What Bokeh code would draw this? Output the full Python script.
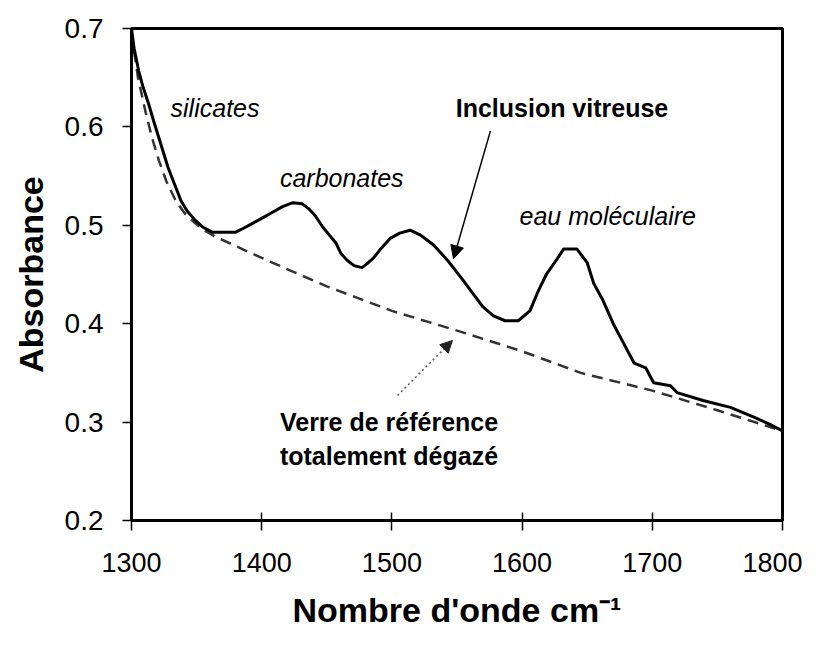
from bokeh.plotting import figure
from bokeh.models import Range1d, FixedTicker, Label, Arrow, NormalHead
from bokeh.embed import file_html
from bokeh.resources import INLINE

# --- data ---
wavenumber_inclusion = [1300, 1302, 1305.5, 1309, 1313, 1317, 1321, 1325, 1328, 1333, 1338, 1343,
                        1349, 1355, 1362, 1370, 1380, 1386, 1393, 1400, 1408, 1416, 1424, 1431,
                        1436, 1441, 1447, 1452, 1457, 1461, 1466, 1471, 1477, 1481, 1486, 1492,
                        1499, 1506, 1514, 1522, 1532, 1543, 1553, 1562, 1570, 1578, 1587, 1597,
                        1606, 1612, 1619, 1626, 1632, 1642, 1650, 1655, 1662, 1670, 1678, 1686,
                        1695, 1701, 1714, 1719, 1739, 1760, 1778, 1790, 1800]
absorbance_inclusion = [0.700, 0.680, 0.657, 0.640, 0.624, 0.606, 0.589, 0.572, 0.559, 0.542, 0.525, 0.514,
                        0.505, 0.498, 0.493, 0.493, 0.493, 0.497, 0.502, 0.507, 0.513, 0.519, 0.523, 0.522,
                        0.517, 0.510, 0.498, 0.490, 0.482, 0.471, 0.464, 0.459, 0.457, 0.461, 0.467, 0.477,
                        0.487, 0.492, 0.495, 0.490, 0.480, 0.464, 0.447, 0.431, 0.417, 0.408, 0.403, 0.403,
                        0.413, 0.432, 0.451, 0.464, 0.476, 0.476, 0.462, 0.441, 0.424, 0.400, 0.380, 0.360,
                        0.355, 0.340, 0.337, 0.330, 0.322, 0.315, 0.305, 0.298, 0.291]

wavenumber_reference = [1300, 1305, 1311, 1316, 1321, 1327, 1334, 1341, 1349, 1357, 1365, 1380,
                        1393, 1422, 1450, 1500, 1550, 1600, 1645, 1700, 1750, 1800]
absorbance_reference = [0.695, 0.650, 0.614, 0.588, 0.566, 0.544, 0.525, 0.512, 0.502, 0.494, 0.488, 0.479,
                        0.471, 0.454, 0.438, 0.413, 0.393, 0.372, 0.350, 0.332, 0.312, 0.291]

x_ticks = [1300, 1400, 1500, 1600, 1700, 1800]
x_tick_labels = ["1300", "1400", "1500", "1600", "1700", "1800"]
y_ticks = [0.2, 0.3, 0.4, 0.5, 0.6, 0.7]
y_tick_labels = ["0.2", "0.3", "0.4", "0.5", "0.6", "0.7"]

FONT = "Liberation Sans"

p = figure(width=802, height=632, output_backend="svg", toolbar_location=None,
           x_range=Range1d(1300, 1800), y_range=Range1d(0.2, 0.7),
           min_border_left=131, min_border_right=20, min_border_top=28, min_border_bottom=112)
p.background_fill_color = "white"
p.border_fill_color = "white"
p.outline_line_color = "black"
p.outline_line_width = 3
p.xgrid.visible = False
p.ygrid.visible = False

# lines
p.line(wavenumber_reference, absorbance_reference, line_color="#333333", line_width=2.5, line_dash="11 7")
p.line(wavenumber_inclusion, absorbance_inclusion, line_color="black", line_width=3)

# axes
for ax in (p.xaxis[0], p.yaxis[0]):
    ax.axis_line_color = "black"
    ax.axis_line_width = 3
    ax.major_tick_line_color = "black"
    ax.major_tick_line_width = 1.5
    ax.minor_tick_line_color = None
    ax.major_label_text_font = FONT
    ax.major_label_text_color = "black"
    ax.axis_label_text_font = FONT
    ax.axis_label_text_font_style = "bold"
    ax.axis_label_text_color = "black"

p.xaxis.ticker = FixedTicker(ticks=x_ticks)
p.xaxis.major_label_overrides = dict(zip(x_ticks, x_tick_labels))
p.xaxis.major_tick_in = 8
p.xaxis.major_tick_out = 10
p.xaxis.major_label_standoff = 22
p.xaxis.major_label_text_font_size = "27px"
p.xaxis.axis_label = "Nombre d'onde cm\u207b\u00b9"
p.xaxis.axis_label_text_font_size = "34px"
p.xaxis.axis_label_standoff = 16

p.yaxis.ticker = FixedTicker(ticks=y_ticks)
p.yaxis.major_label_overrides = dict(zip(y_ticks, y_tick_labels))
p.yaxis.major_tick_in = 0
p.yaxis.major_tick_out = 9
p.yaxis.major_label_standoff = 19
p.yaxis.major_label_text_font_size = "28px"
p.yaxis.axis_label = "Absorbance"
p.yaxis.axis_label_text_font_size = "34px"
p.yaxis.axis_label_standoff = 12

# annotations
def add_label(x, y, text, size, style, align="left"):
    p.add_layout(Label(x=x, y=y, text=text, text_font=FONT, text_font_size=size,
                       text_font_style=style, text_color="black", text_align=align,
                       text_baseline="middle"))

add_label(1330, 0.619, "silicates", "25px", "italic")
add_label(1414, 0.548, "carbonates", "25px", "italic")
add_label(1598, 0.509, "eau moléculaire", "25px", "italic")
add_label(1549, 0.619, "Inclusion vitreuse", "25px", "bold")
add_label(1414, 0.300, "Verre de référence", "25px", "bold")
add_label(1414, 0.266, "totalement dégazé", "25px", "bold")

p.add_layout(Arrow(x_start=1575.7, y_start=0.596, x_end=1547.3, y_end=0.466,
                   line_color="black", line_width=1.5,
                   end=NormalHead(size=13, fill_color="black", line_color="black")))
p.add_layout(Arrow(x_start=1504.3, y_start=0.327, x_end=1546.5, y_end=0.383,
                   line_color="#555555", line_width=1.5, line_dash="2 3",
                   end=NormalHead(size=12, fill_color="#222222", line_color="#222222")))

open("out.html", "w").write(file_html(p, INLINE))
